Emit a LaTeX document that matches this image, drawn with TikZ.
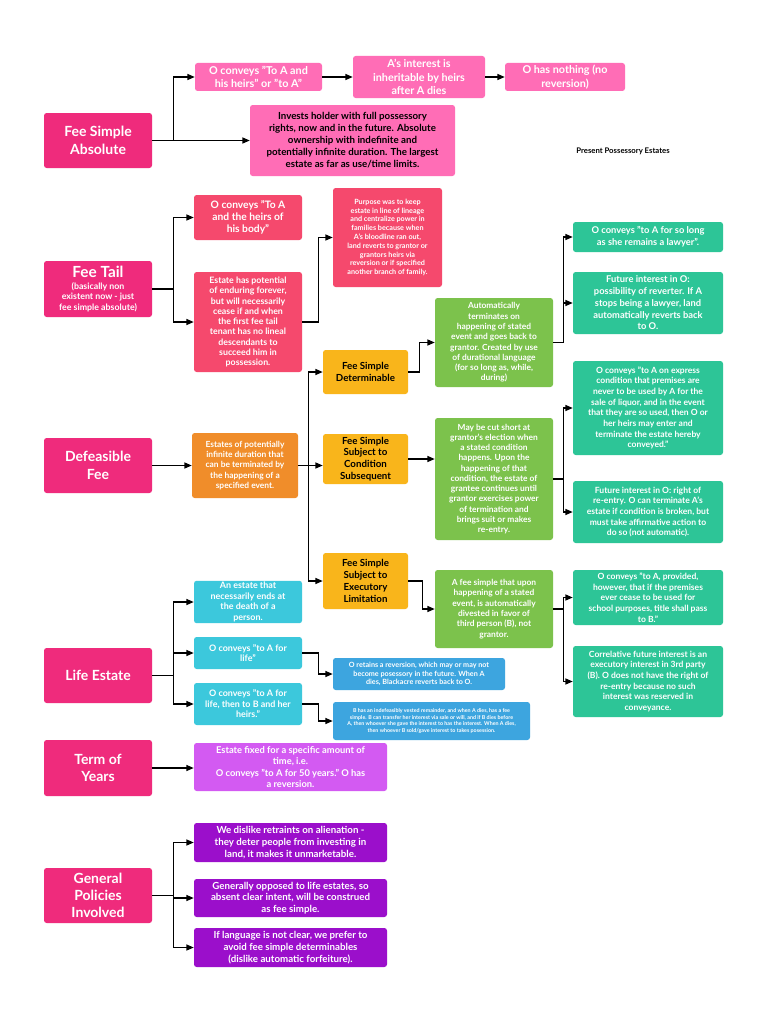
\documentclass[tikz,border=0pt]{standalone}
\usepackage{fontspec}
\setmainfont{Lato}
\usetikzlibrary{arrows.meta}
\definecolor{mainpink}{HTML}{EF2B7C}
\definecolor{lightpink}{HTML}{FF6DB6}
\definecolor{tailred}{HTML}{F5496D}
\definecolor{orangec}{HTML}{F08D2A}
\definecolor{yellowc}{HTML}{F9B51B}
\definecolor{greenc}{HTML}{7CC24C}
\definecolor{tealc}{HTML}{2DC597}
\definecolor{cyanc}{HTML}{3CC8DC}
\definecolor{bluec}{HTML}{3DA5DF}
\definecolor{lilacc}{HTML}{D35AF2}
\definecolor{violetc}{HTML}{9B0FCB}
\newcommand\fs[2]{\fontsize{#1pt}{#2pt}\selectfont}
\tikzset{
  box/.style={rounded corners=2pt, inner sep=1pt, align=center, text=white},
  mainbox/.style={box, fill=mainpink},
  link/.style={line width=0.9pt, draw=black},
  arr/.style={link, -{Triangle[length=5.5pt,width=4.5pt]}},
}
% name, x1, y1, x2, y2, style, font, text
\newcommand\bx[8]{%
  \pgfmathsetmacro\bw{(#4-#2)*0.75}%
  \pgfmathsetmacro\bh{(#5-#3)*0.75}%
  \node[box, #6, minimum width=\bw pt, minimum height=\bh pt, font=\bfseries#7]
    (#1) at ({(#2+#4)/2},{(#3+#5)/2}) {#8};}
\begin{document}
\begin{tikzpicture}[x=0.75pt, y=-0.75pt]
\fill[white] (0,0) rectangle (768,1024);
\useasboundingbox (0,0) rectangle (768,1024);

% Fee simple absolute
\bx{fsa}{44}{113}{152}{168}{fill=mainpink}{\fs{10.5}{13}}{Fee Simple\\Absolute}
\bx{c1}{195}{63}{322}{91}{fill=lightpink}{\fs{8.1}{10}}{O conveys "To A and\\his heirs" or "to A"}
\bx{c2}{353}{56}{485}{98}{fill=lightpink}{\fs{8.1}{10}}{A's interest is\\inheritable by heirs\\after A dies}
\bx{c3}{505}{63}{625}{91}{fill=lightpink}{\fs{8.1}{10}}{O has nothing (no\\reversion)}
\bx{big}{250}{105}{455}{176}{fill=lightpink, text=black}{\fs{7.3}{9}}{Invests holder with full possessory\\rights, now and in the future. Absolute\\ownership with indefinite and\\potentially infinite duration. The largest\\estate as far as use/time limits.}
\node[font=\bfseries\fs{5.8}{7}, text=black] (title) at (623,151) {Present Possessory Estates};

\draw[arr] (fsa.east) -- ++(21,0) |- (c1.west);
\draw[arr] (fsa.east) -- (big.west);
\draw[arr] (c1.east) -- (c2.west);
\draw[arr] (c2.east) -- (c3.west);

% Fee tail
\bx{ft}{44}{261}{152}{317}{fill=mainpink}{\fs{6.6}{7.7}}{{\fs{11.5}{13}Fee Tail}\\[1pt](basically non\\existent now - just\\fee simple absolute)}
\bx{t1}{194}{195}{302}{240}{fill=tailred}{\fs{7.7}{8.8}}{O conveys "To A\\and the heirs of\\his body"}
\bx{t2}{194}{272}{302}{372}{fill=tailred}{\fs{6.6}{7.7}}{Estate has potential\\of enduring forever,\\but will necessarily\\cease if and when\\the first fee tail\\tenant has no lineal\\descendants to\\succeed him in\\possession.}
\bx{purpose}{333}{188}{442}{287}{fill=tailred}{\fs{5.4}{6.6}}{Purpose was to keep\\estate in line of lineage\\and centralize power in\\families because when\\A's bloodline ran out,\\land reverts to grantor or\\grantors heirs via\\reversion or if specified\\another branch of family.}
\draw[arr] (ft.east) -- ++(21,0) |- (t1.west);
\draw[arr] (ft.east) -- ++(21,0) |- (t2.west);
\draw[arr] (t2.east) -- ++(16,0) |- (purpose.west);

% Defeasible fee
\bx{df}{44}{438}{152}{493}{fill=mainpink}{\fs{10.5}{13}}{Defeasible\\Fee}
\bx{orng}{192}{433}{298}{498}{fill=orangec}{\fs{6.3}{7.7}}{Estates of potentially\\infinite duration that\\can be terminated by\\the happening of a\\specified event.}
\bx{y1}{323}{350}{408}{394}{fill=yellowc, text=black}{\fs{7.3}{8.5}}{Fee Simple\\Determinable}
\bx{y2}{323}{434}{408}{484}{fill=yellowc, text=black}{\fs{7.3}{8.8}}{Fee Simple\\Subject to\\Condition\\Subsequent}
\bx{y3}{323}{553}{408}{609}{fill=yellowc, text=black}{\fs{7.3}{8.8}}{Fee Simple\\Subject to\\Executory\\Limitation}
\bx{g1}{435}{298}{553}{387}{fill=greenc}{\fs{6.3}{7.7}}{Automatically\\terminates on\\happening of stated\\event and goes back to\\grantor. Created by use\\of durational language\\(for so long as, while,\\during)}
\bx{g2}{435}{418}{553}{540}{fill=greenc}{\fs{6.3}{7.7}}{May be cut short at\\grantor's election when\\a stated condition\\happens. Upon the\\happening of that\\condition, the estate of\\grantee continues until\\grantor exercises power\\of termination and\\brings suit or makes\\re-entry.}
\bx{g3}{435}{570}{553}{648}{fill=greenc}{\fs{6.3}{7.7}}{A fee simple that  upon\\happening of a stated\\event,  is automatically\\divested  in favor of\\third person (B), not\\grantor.}
\bx{r1}{573}{222}{723}{252}{fill=tealc}{\fs{7}{8.8}}{O conveys "to A for so long\\as she remains a lawyer".}
\bx{r2}{573}{272}{723}{334}{fill=tealc}{\fs{7}{8.8}}{Future interest in O:\\possibility of reverter. If A\\stops being a lawyer, land\\automatically reverts back\\to O.}
\bx{r3}{573}{361}{723}{455}{fill=tealc}{\fs{6.4}{8}}{O conveys "to A on express\\condition that premises are\\never to be used by A for the\\sale of liquor, and in the event\\that they are so used, then O or\\her heirs may enter and\\terminate the estate hereby\\conveyed."}
\bx{r4}{573}{481}{723}{543}{fill=tealc}{\fs{6.4}{8}}{Future interest in O: right of\\re-entry. O can terminate A's\\estate if condition is broken, but\\must take affirmative action to\\do so (not automatic).}
\bx{r5}{573}{570}{723}{625}{fill=tealc}{\fs{6.4}{8}}{O conveys "to A, provided,\\however, that if the premises\\ever cease to be  used for\\school purposes, title shall pass\\to B."}
\bx{r6}{573}{646}{723}{717}{fill=tealc}{\fs{6.4}{8}}{Correlative future interest is an\\executory interest in 3rd party\\(B). O does not have the right of\\re-entry because no such\\interest was reserved in\\conveyance.}

\draw[arr] (df.east) -- (orng.west);
\draw[arr] (orng.east) -- (y2.west |- orng.east);
\draw[arr] (orng.east) -- ++(10,0) |- (y1.west);
\draw[arr] (orng.east) -- ++(10,0) |- (y3.west);
\draw[arr] (y1.east) -- ++(11,0) |- (g1.west);
\draw[arr] (y2.east) -- (g2.west |- y2.east);
\draw[arr] (y3.east) -- ++(14,0) |- (g3.west);
\draw[arr] (g1.east) -- ++(10,0) |- (r1.west);
\draw[arr] (g1.east) -- ++(10,0) |- (r2.west);
\draw[arr] (g2.east) -- ++(10,0) |- (r3.west);
\draw[arr] (g2.east) -- ++(10,0) |- (r4.west);
\draw[arr] (g3.east) -- ++(10,0) |- (r5.west);
\draw[arr] (g3.east) -- ++(10,0) |- (r6.west);

% Life estate
\bx{le}{44}{648}{152}{703}{fill=mainpink}{\fs{10.5}{13}}{Life Estate}
\bx{l1}{194}{581}{302}{623}{fill=cyanc}{\fs{6.7}{7.9}}{An estate that\\necessarily ends at\\the death of a\\person.}
\bx{l2}{194}{637}{302}{669}{fill=cyanc}{\fs{6.7}{7.9}}{O conveys "to A for\\life"}
\bx{l3}{194}{683}{302}{725}{fill=cyanc}{\fs{6.7}{7.9}}{O conveys "to A for\\life, then to B and her\\heirs."}
\bx{b1}{333}{658}{505}{690}{fill=bluec}{\fs{5.4}{6.5}}{O retains a reversion, which may or may not\\become posessory in the future. When A\\dies, Blackacre reverts back to O.}
\bx{b2}{333}{702}{530}{740}{fill=bluec}{\fs{4}{5.2}}{B has an indefeasibly vested remainder, and when A dies, has a fee\\simple. B can transfer her interest via sale or will, and if B dies before\\A, then whoever she gave the interest to has the interest. When A dies,\\then whoever B sold/gave interest to takes posession.}
\draw[arr] (le.east) -- ++(21,0) |- (l1.west);
\draw[arr] (le.east) -- ++(21,0) |- (l2.west);
\draw[arr] (le.east) -- ++(21,0) |- (l3.west);
\draw[arr] (l2.east) -- ++(16,0) |- (b1.west);
\draw[arr] (l3.east) -- ++(16,0) |- (b2.west);

% Term of years
\bx{ty}{44}{740}{152}{796}{fill=mainpink}{\fs{10.5}{13}}{Term of\\Years}
\bx{ptb}{194}{743}{387}{791}{fill=lilacc}{\fs{7}{8.5}}{Estate fixed for a specific amount of\\time, i.e.\\O conveys "to A for 50 years." O has\\a reversion.}
\draw[arr] (ty.east) -- (ptb.west |- ty.east);

% General policies
\bx{gp}{44}{868}{152}{923}{fill=mainpink}{\fs{10.5}{13}}{General\\Policies\\Involved}
\bx{v1}{194}{823}{387}{862}{fill=violetc}{\fs{7.3}{8.8}}{We dislike retraints on alienation -\\they deter people from investing in\\land, it makes it unmarketable.}
\bx{v2}{194}{879}{387}{917}{fill=violetc}{\fs{7.3}{8.8}}{Generally opposed to life estates, so\\absent clear intent, will be construed\\as fee simple.}
\bx{v3}{194}{928}{387}{967}{fill=violetc}{\fs{7.3}{8.8}}{If language is not clear, we prefer to\\avoid fee simple determinables\\(dislike automatic forfeiture).}
\draw[arr] (gp.east) -- ++(21,0) |- (v1.west);
\draw[arr] (gp.east) -- ++(21,0) |- (v2.west);
\draw[arr] (gp.east) -- ++(21,0) |- (v3.west);
\end{tikzpicture}
\end{document}
